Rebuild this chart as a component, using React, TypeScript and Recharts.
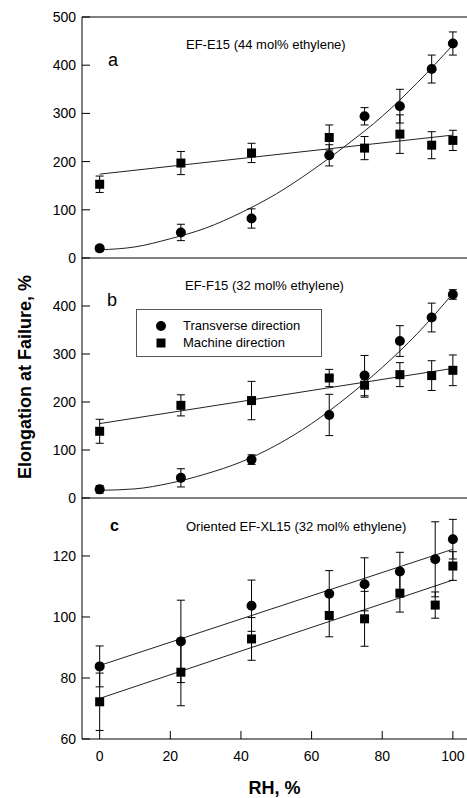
import React from 'react';
import { ComposedChart, Scatter, Line, XAxis, YAxis, ErrorBar, ReferenceLine, Legend } from 'recharts';

// ---- data ----
const rhAB = [0, 23, 43, 65, 75, 85, 94, 100];
const rhC = [0, 23, 43, 65, 75, 85, 95, 100];

const aTransverse = [20, 53, 82, 213, 294, 315, 392, 445];
const aTransverseErr = [6, 17, 20, 22, 18, 35, 29, 24];
const aMachine = [153, 197, 218, 250, 228, 257, 234, 244];
const aMachineErr = [17, 24, 20, 26, 24, 40, 28, 21];

const bTransverse = [18, 42, 80, 173, 255, 327, 376, 424];
const bTransverseErr = [8, 19, 10, 43, 42, 32, 30, 10];
const bMachine = [139, 193, 203, 250, 235, 257, 255, 266];
const bMachineErr = [25, 22, 40, 18, 25, 25, 31, 32];

const cTransverse = [83.8, 92, 103.7, 107.6, 110.7, 114.9, 118.9, 125.5];
const cTransverseErr = [6.7, 13.5, 8.4, 7.6, 8.7, 6.3, 12.3, 6.5];
const cMachine = [72.2, 81.9, 92.8, 100.5, 99.4, 107.8, 103.9, 116.7];
const cMachineErr = [9.4, 11, 7, 7, 9, 6.2, 4.3, 4.7];

// fitted curves
const fitRH = [0, 10, 20, 30, 40, 50, 60, 70, 80, 90, 100];
const aTransverseFit = [17, 23, 40, 62, 94, 133, 181, 235, 294, 364, 442];
const bTransverseFit = [16, 19, 31, 50, 75, 110, 155, 210, 272, 343, 426];
const lineRH = [0, 100];
const aMachineFit = [174, 255];
const bMachineFit = [155, 270];
const cTransverseFit = [84.1, 122.2];
const cMachineFit = [73.3, 112.1];

const xTicks = [0, 20, 40, 60, 80, 100];
const yTicksA = [0, 100, 200, 300, 400, 500];
const yTicksB = [0, 100, 200, 300, 400];
const yTicksC = [60, 80, 100, 120];

const seriesNames = ['Transverse direction', 'Machine direction'];
const panelTitles = ['EF-E15 (44 mol% ethylene)', 'EF-F15 (32 mol% ethylene)', 'Oriented EF-XL15 (32 mol% ethylene)'];
const panelLetters = ['a', 'b', 'c'];
const yTitle = 'Elongation at Failure, %';
const xTitle = 'RH, %';

const FONT = 'Liberation Sans, Arial, sans-serif';

const mk = (xs: number[], ys: number[], es?: number[]) =>
  xs.map((x, i) => ({ x, y: ys[i], err: es ? es[i] : 0 }));

const Circle = (p: any) => <circle cx={p.cx} cy={p.cy} r={5} fill="#000" />;
const Square = (p: any) => <rect x={p.cx - 4.5} y={p.cy - 4.5} width={9} height={9} fill="#000" />;

const LegendBox = () => (
  <div
    style={{
      border: '1px solid #555',
      width: 186,
      height: 48,
      boxSizing: 'border-box',
      fontFamily: FONT,
      fontSize: 13,
      color: '#000',
      background: '#fff',
      paddingTop: 7,
    }}
  >
    {seriesNames.map((n, i) => (
      <div key={n} style={{ display: 'flex', alignItems: 'center', height: 17 }}>
        <svg width={46} height={14}>
          {i === 0 ? <circle cx={24} cy={7} r={5} fill="#000" /> : <rect x={19.5} y={2.5} width={9} height={9} fill="#000" />}
        </svg>
        <span>{n}</span>
      </div>
    ))}
  </div>
);

type PanelProps = {
  top: number;
  marginTop: number;
  height: number;
  xHeight: number;
  yDomain: [number, number];
  yTicks: number[];
  transverse: any[];
  machine: any[];
  tFit: any[];
  mFit: any[];
  showXLabels: boolean;
  topBorder?: number;
  legend?: boolean;
};

const Panel = (p: PanelProps) => (
  <div style={{ position: 'absolute', left: 0, top: p.top }}>
    <ComposedChart
      width={467}
      height={p.height}
      margin={{ top: p.marginTop, right: 0, left: 0, bottom: 0 }}
    >
      <XAxis
        type="number"
        dataKey="x"
        domain={[-5, 104]}
        ticks={xTicks}
        interval={0}
        allowDataOverflow
        height={p.xHeight}
        tickSize={-8}
        tickMargin={20}
        axisLine={{ stroke: '#000' }}
        tickLine={{ stroke: '#000' }}
        tick={p.showXLabels ? { fontSize: 14, fill: '#000', fontFamily: FONT } : false}
        label={
          p.showXLabels
            ? { value: xTitle, position: 'insideBottom', offset: 4, style: { fontSize: 18, fontWeight: 'bold', fill: '#000', fontFamily: FONT } }
            : undefined
        }
      />
      <YAxis
        type="number"
        dataKey="y"
        domain={p.yDomain}
        ticks={p.yTicks}
        interval={0}
        allowDataOverflow
        width={82}
        tickSize={-8}
        tickMargin={14}
        axisLine={{ stroke: '#000' }}
        tickLine={{ stroke: '#000' }}
        tick={{ fontSize: 14, fill: '#000', fontFamily: FONT }}
      />
      {p.topBorder !== undefined && <ReferenceLine y={p.topBorder} stroke="#000" />}
      <Line data={p.tFit} dataKey="y" type="monotone" dot={false} stroke="#222" strokeWidth={1} isAnimationActive={false} legendType="none" />
      <Line data={p.mFit} dataKey="y" type="linear" dot={false} stroke="#222" strokeWidth={1} isAnimationActive={false} legendType="none" />
      <Scatter name={seriesNames[0]} data={p.transverse} dataKey="y" shape={Circle} isAnimationActive={false}>
        <ErrorBar dataKey="err" direction="y" width={4} stroke="#000" strokeWidth={1} />
      </Scatter>
      <Scatter name={seriesNames[1]} data={p.machine} dataKey="y" shape={Square} isAnimationActive={false}>
        <ErrorBar dataKey="err" direction="y" width={4} stroke="#000" strokeWidth={1} />
      </Scatter>
      {p.legend && (
        <Legend
          layout="vertical"
          align="center"
          verticalAlign="middle"
          content={() => <LegendBox />}
          wrapperStyle={{ left: 136, top: 51, width: 188, height: 50 }}
        />
      )}
    </ComposedChart>
  </div>
);

export default function App() {
  return (
    <div style={{ position: 'absolute', left: 0, top: 0, width: 467, height: 798, background: '#fff', fontFamily: FONT }}>
      <Panel
        top={0}
        marginTop={17}
        height={267}
        xHeight={9}
        yDomain={[0, 500]}
        yTicks={yTicksA}
        transverse={mk(rhAB, aTransverse, aTransverseErr)}
        machine={mk(rhAB, aMachine, aMachineErr)}
        tFit={mk(fitRH, aTransverseFit)}
        mFit={mk(lineRH, aMachineFit)}
        showXLabels={false}
        topBorder={500}
      />
      <Panel
        top={258}
        marginTop={0}
        height={249}
        xHeight={9}
        yDomain={[0, 500]}
        yTicks={yTicksB}
        transverse={mk(rhAB, bTransverse, bTransverseErr)}
        machine={mk(rhAB, bMachine, bMachineErr)}
        tFit={mk(fitRH, bTransverseFit)}
        mFit={mk(lineRH, bMachineFit)}
        showXLabels={false}
        legend
      />
      <Panel
        top={498}
        marginTop={0}
        height={300}
        xHeight={59}
        yDomain={[60, 139]}
        yTicks={yTicksC}
        transverse={mk(rhC, cTransverse, cTransverseErr)}
        machine={mk(rhC, cMachine, cMachineErr)}
        tFit={mk(lineRH, cTransverseFit)}
        mFit={mk(lineRH, cMachineFit)}
        showXLabels={true}
      />
      <svg width={467} height={798} style={{ position: 'absolute', left: 0, top: 0, pointerEvents: 'none' }}>
        <g fontFamily={FONT} fill="#000">
          <text x={186} y={49} fontSize={13}>{panelTitles[0]}</text>
          <text x={108} y={66} fontSize={18}>{panelLetters[0]}</text>
          <text x={185} y={290} fontSize={13}>{panelTitles[1]}</text>
          <text x={107} y={306} fontSize={18}>{panelLetters[1]}</text>
          <text x={186} y={531} fontSize={13}>{panelTitles[2]}</text>
          <text x={110} y={531} fontSize={16} fontWeight="bold">{panelLetters[2]}</text>
          <text
            x={25}
            y={377}
            fontSize={18}
            fontWeight="bold"
            textAnchor="middle"
            dominantBaseline="central"
            transform="rotate(-90 25 377)"
          >
            {yTitle}
          </text>
        </g>
      </svg>
    </div>
  );
}
